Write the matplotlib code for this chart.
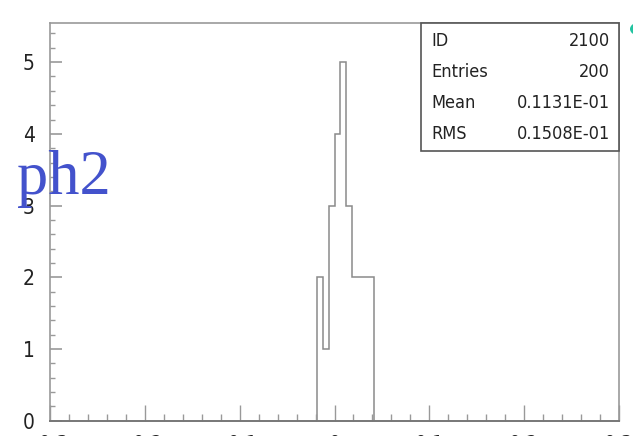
import matplotlib
matplotlib.use("Agg")
import matplotlib.pyplot as plt
from matplotlib.patches import Rectangle, Circle
from matplotlib.ticker import MultipleLocator

# histogram contents (bin width 0.006)
edges = [-0.018, -0.012, -0.006, 0.0, 0.006, 0.012, 0.018, 0.024, 0.030, 0.036, 0.042]
counts = [2, 1, 3, 4, 5, 3, 2, 2, 2, 2]

# statistics box
stat_names = ["ID", "Entries", "Mean", "RMS"]
stat_values = ["2100", "200", "0.1131E-01", "0.1508E-01"]

x_ticks = [-0.3, -0.2, -0.1, 0, 0.1, 0.2, 0.3]
x_labels = ["-0.3", "-0.2", "-0.1", "0", "0.1", "0.2", "0.3"]
y_ticks = [0, 1, 2, 3, 4, 5]

# narrow sans, falls back to DejaVu Sans Condensed via stretch
narrow = ["Liberation Sans Narrow", "DejaVu Sans"]

W, H = 633, 436
fig = plt.figure(figsize=(W / 100, H / 100), dpi=100)

# axes frame in pixels
x0, x1 = 50, 619
y0, y1 = 420.7, 22.7
ax = fig.add_axes([x0 / W, 1 - y0 / H, (x1 - x0) / W, (y0 - y1) / H])

ax.stairs(counts, edges, color="#8a8a8a", linewidth=1.1, baseline=0)

ax.set_xlim(-0.3, 0.3)
ax.set_ylim(0, 5.55)
ax.set_xticks(x_ticks)
ax.set_xticklabels(x_labels)
ax.set_yticks(y_ticks)
ax.xaxis.set_minor_locator(MultipleLocator(0.02))
ax.yaxis.set_minor_locator(MultipleLocator(0.2))

ax.tick_params(axis="x", which="major", direction="in", length=11.5, width=1,
               color="#999999", pad=10, labelsize=15)
ax.tick_params(axis="x", which="minor", direction="in", length=5, width=1,
               color="#999999")
ax.tick_params(axis="y", which="major", direction="in", length=8.5, width=1.2,
               color="#999999", pad=11, labelsize=15)
ax.tick_params(axis="y", which="minor", direction="in", length=3.6, width=1,
               color="#999999")
for lab in ax.get_xticklabels() + ax.get_yticklabels():
    lab.set_family(narrow)
    lab.set_stretch("condensed")
    lab.set_color("#222222")

for side in ["left", "top", "right"]:
    ax.spines[side].set_color("#999999")
    ax.spines[side].set_linewidth(1.2)
ax.spines["bottom"].set_color("#777777")
ax.spines["bottom"].set_linewidth(1.4)

# stats box (figure pixel coordinates)
bx0, bx1, by0, by1 = 421, 619, 22.7, 150.7
box = Rectangle((bx0 / W, 1 - by1 / H), (bx1 - bx0) / W, (by1 - by0) / H,
                transform=fig.transFigure, facecolor="white",
                edgecolor="#555555", linewidth=1.2, zorder=5)
fig.patches.append(box)
row_y = [41, 72, 103, 134]
for name, val, ry in zip(stat_names, stat_values, row_y):
    fig.text(431 / W, 1 - ry / H, name, ha="left", va="center", fontsize=13,
             family=narrow, stretch="condensed", color="#222222", zorder=6)
    fig.text(610 / W, 1 - ry / H, val, ha="right", va="center", fontsize=13,
             family=narrow, stretch="condensed", color="#222222", zorder=6)

# slide label
fig.text(17 / W, 1 - 194 / H, "ph2", ha="left", va="baseline", fontsize=45,
         family=["Liberation Serif", "DejaVu Serif"], color="#4352cc", zorder=7)

# decoration at the top-right corner
fig.patches.append(Circle((640 / W, 1 - 29 / H), 10 / W, transform=fig.transFigure,
                          facecolor="#22c3a0", edgecolor="none"))

fig.savefig("out.png", dpi=100)
